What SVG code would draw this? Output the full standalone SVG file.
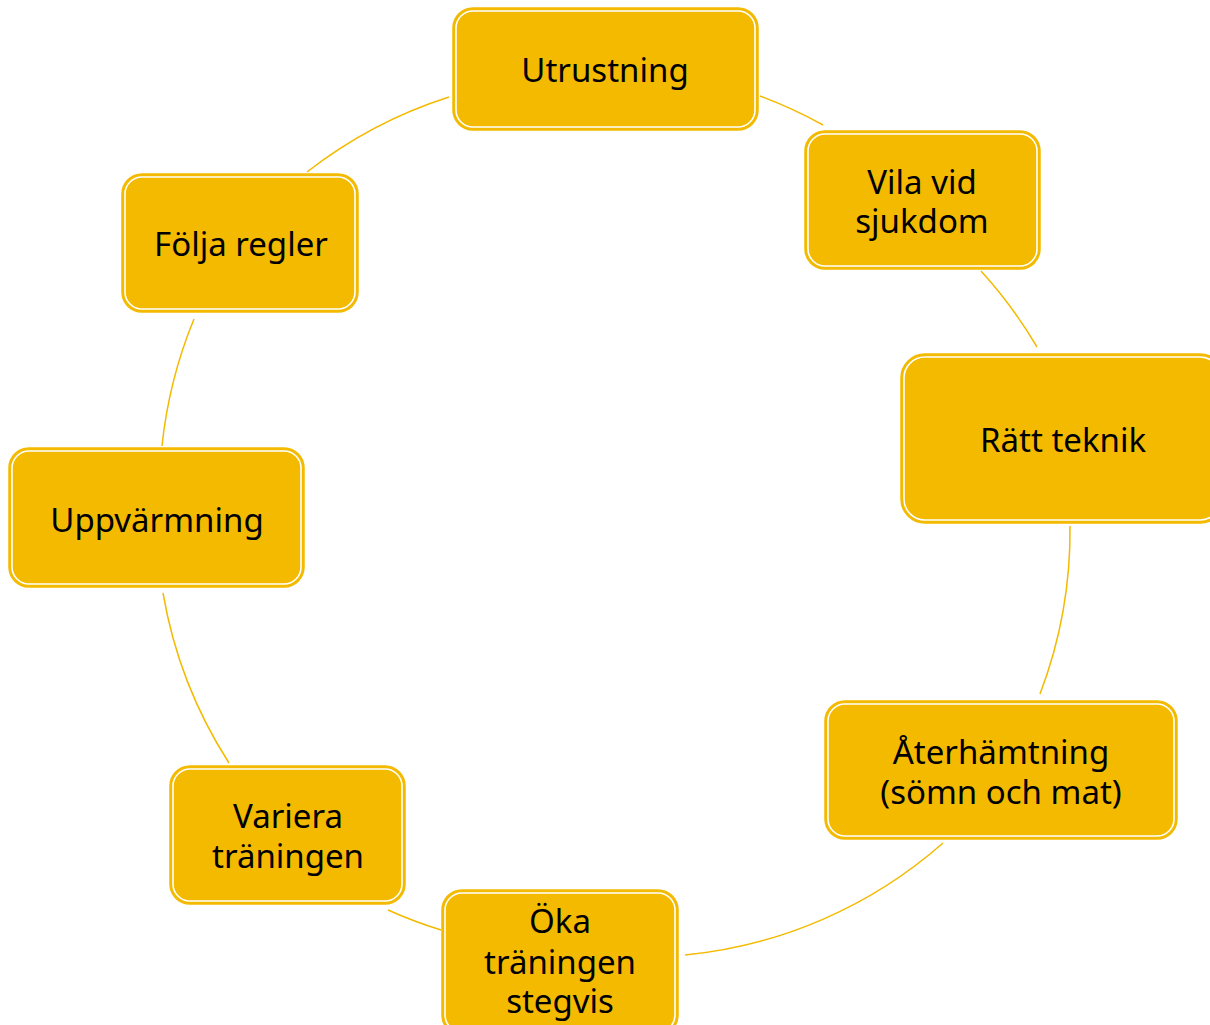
<svg xmlns="http://www.w3.org/2000/svg" width="1210" height="1025" viewBox="0 0 1210 1025">
<style>
.o{fill:#F3BA00;stroke:#F3BA00;stroke-width:1.5}
.i{fill:none;stroke:#FFFFFF;stroke-width:1.6}
.t{font-family:"Noto Sans","Open Sans","DejaVu Sans",sans-serif;font-size:33px;fill:#000;text-anchor:middle}
.c{fill:none;stroke:#F3BA00;stroke-width:1.5}
</style>
<rect width="1210" height="1025" fill="#FFFFFF"/>
<g id="connectors">
<path class="c" d="M760,96 A457,457 0 0 1 823,125"/>
<path class="c" d="M981,271 A457,457 0 0 1 1037,347"/>
<path class="c" d="M1070,526 A457,457 0 0 1 1040,694"/>
<path class="c" d="M943,843 A457,457 0 0 1 685,955"/>
<path class="c" d="M441,930 A457,457 0 0 1 388,910"/>
<path class="c" d="M229,763 A457,457 0 0 1 163,593"/>
<path class="c" d="M162,446 A457,457 0 0 1 194,319"/>
<path class="c" d="M307,172 A457,457 0 0 1 449,97"/>
</g>
<g id="n1">
<rect class="o" x="453" y="8" width="305" height="122" rx="20"/>
<rect class="i" x="456" y="11" width="299" height="116" rx="17"/>
<text class="t" x="605" y="82">Utrustning</text>
</g>
<g id="n2">
<rect class="o" x="805" y="131" width="235" height="138" rx="20"/>
<rect class="i" x="808" y="134" width="229" height="132" rx="17"/>
<text class="t" x="922" y="194">Vila vid</text>
<text class="t" x="922" y="233">sjukdom</text>
</g>
<g id="n3">
<rect class="o" x="901" y="354" width="323" height="169" rx="24"/>
<rect class="i" x="904" y="357" width="317" height="163" rx="21"/>
<text class="t" x="1063" y="452">Rätt teknik</text>
</g>
<g id="n4">
<rect class="o" x="825" y="701" width="352" height="138" rx="20"/>
<rect class="i" x="828" y="704" width="346" height="132" rx="17"/>
<text class="t" x="1001" y="764">Återhämtning</text>
<text class="t" x="1001" y="804">(sömn och mat)</text>
</g>
<g id="n5">
<rect class="o" x="442" y="890" width="236" height="145" rx="20"/>
<rect class="i" x="445" y="893" width="230" height="139" rx="17"/>
<text class="t" x="560" y="933">Öka</text>
<text class="t" x="560" y="974">träningen</text>
<text class="t" x="560" y="1013">stegvis</text>
</g>
<g id="n6">
<rect class="o" x="170" y="766" width="235" height="138" rx="20"/>
<rect class="i" x="173" y="769" width="229" height="132" rx="17"/>
<text class="t" x="288" y="828">Variera</text>
<text class="t" x="288" y="868">träningen</text>
</g>
<g id="n7">
<rect class="o" x="9" y="448" width="295" height="139" rx="20"/>
<rect class="i" x="12" y="451" width="289" height="133" rx="17"/>
<text class="t" x="157" y="532">Uppvärmning</text>
</g>
<g id="n8">
<rect class="o" x="122" y="174" width="236" height="138" rx="20"/>
<rect class="i" x="125" y="177" width="230" height="132" rx="17"/>
<text class="t" x="241" y="256">Följa regler</text>
</g>
</svg>
